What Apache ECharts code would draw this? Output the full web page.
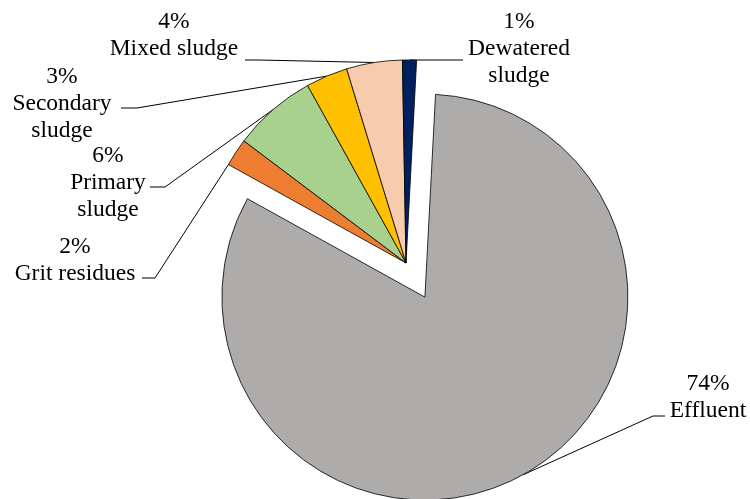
<!DOCTYPE html>
<html>
<head>
<meta charset="utf-8">
<script src="https://cdn.jsdelivr.net/npm/echarts@6/dist/echarts.min.js"></script>
<style>
  html, body { margin: 0; padding: 0; background: #ffffff; }
  #chart { width: 750px; height: 499px; }
</style>
</head>
<body>
<div id="chart"></div>
<script>
// Shares of the total load by stream (%)
const categories = ['Effluent', 'Grit residues', 'Primary sludge', 'Secondary sludge', 'Mixed sludge', 'Dewatered sludge'];
const shares = [74, 2, 6, 3, 4, 1];
const labelTexts = ['Effluent', 'Grit residues', 'Primary\nsludge', 'Secondary\nsludge', 'Mixed sludge', 'Dewatered\nsludge'];

const sliceColors = ['#AEABAB', '#ED7D31', '#A9D18E', '#FFC000', '#F8CBAD', '#002060'];

// Label block centre (cx, cy); leader line meets the label at (ex, ey) after a short horizontal run from kx.
// 'along' is where on the slice's arc the leader starts (0 = leading edge, 0.5 = middle).
const labelPlacement = [
  { cx: 708, cy: 397, ex: 665, ey: 416, kx: 653, along: 0.5 },
  { cx: 75,  cy: 260, ex: 142, ey: 278, kx: 155, along: 0.02 },
  { cx: 108, cy: 183, ex: 150, ey: 187, kx: 165, along: 0.5 },
  { cx: 62,  cy: 104, ex: 121, ey: 108, kx: 137, along: 0.5 },
  { cx: 174, cy: 35,  ex: 245, ey: 60,  kx: 258, along: 0.5 },
  { cx: 519, cy: 49,  ex: 463, ey: 60,  kx: 450, along: 0.5 }
];

const pieCenter = [406, 263];
const pieRadius = 203;
const startAngle = 87;
const explodeIndex = 0;      // Effluent is pulled out of the pie
const explodeDistance = 39;

const total = shares.reduce((a, b) => a + b, 0);
const cumulative = shares.map((_, i) => shares.slice(0, i).reduce((a, b) => a + b, 0));

function arcAngle(i, t) {
  return (startAngle - 360 * (cumulative[i] + shares[i] * t) / total) * Math.PI / 180;
}

// Direction of the pulled-out slice, from its mid angle
const midAngle = arcAngle(explodeIndex, 0.5);
const explodedCenter = [
  pieCenter[0] + Math.cos(midAngle) * explodeDistance,
  pieCenter[1] - Math.sin(midAngle) * explodeDistance
];

function makeData(visible) {
  return categories.map((name, i) => {
    const item = { name: name, value: shares[i] };
    if (visible(i)) {
      item.itemStyle = { color: sliceColors[i] };
    } else {
      item.itemStyle = { color: 'rgba(0,0,0,0)', borderWidth: 0 };
      item.label = { show: false };
      item.labelLine = { show: false };
    }
    return item;
  });
}

function baseSeries(center, data) {
  return {
    type: 'pie',
    center: center,
    radius: pieRadius,
    startAngle: startAngle,
    clockwise: true,
    avoidLabelOverlap: false,
    silent: true,
    itemStyle: { borderColor: '#000000', borderWidth: 0.8 },
    emphasis: { disabled: true },
    label: {
      show: true,
      position: 'outside',
      formatter: p => p.value + '%\n' + labelTexts[p.dataIndex],
      fontFamily: '"Liberation Serif", "Times New Roman", serif',
      fontSize: 23.5,
      lineHeight: 27,
      color: '#000000',
      align: 'center'
    },
    labelLine: {
      show: true,
      lineStyle: { color: '#000000', width: 1 }
    },
    labelLayout: params => {
      const i = params.dataIndex;
      const pl = labelPlacement[i];
      const a = arcAngle(i, pl.along);
      const start = [
        center[0] + Math.cos(a) * pieRadius,
        center[1] - Math.sin(a) * pieRadius
      ];
      return {
        x: pl.cx,
        y: pl.cy,
        align: 'center',
        verticalAlign: 'middle',
        labelLinePoints: [start, [pl.kx, pl.ey], [pl.ex, pl.ey]]
      };
    },
    data: data
  };
}

const chart = echarts.init(document.getElementById('chart'), null, { renderer: 'canvas' });

chart.setOption({
  animation: false,
  backgroundColor: '#ffffff',
  series: [
    baseSeries(pieCenter, makeData(i => i !== explodeIndex)),
    baseSeries(explodedCenter, makeData(i => i === explodeIndex))
  ]
});
</script>
</body>
</html>
